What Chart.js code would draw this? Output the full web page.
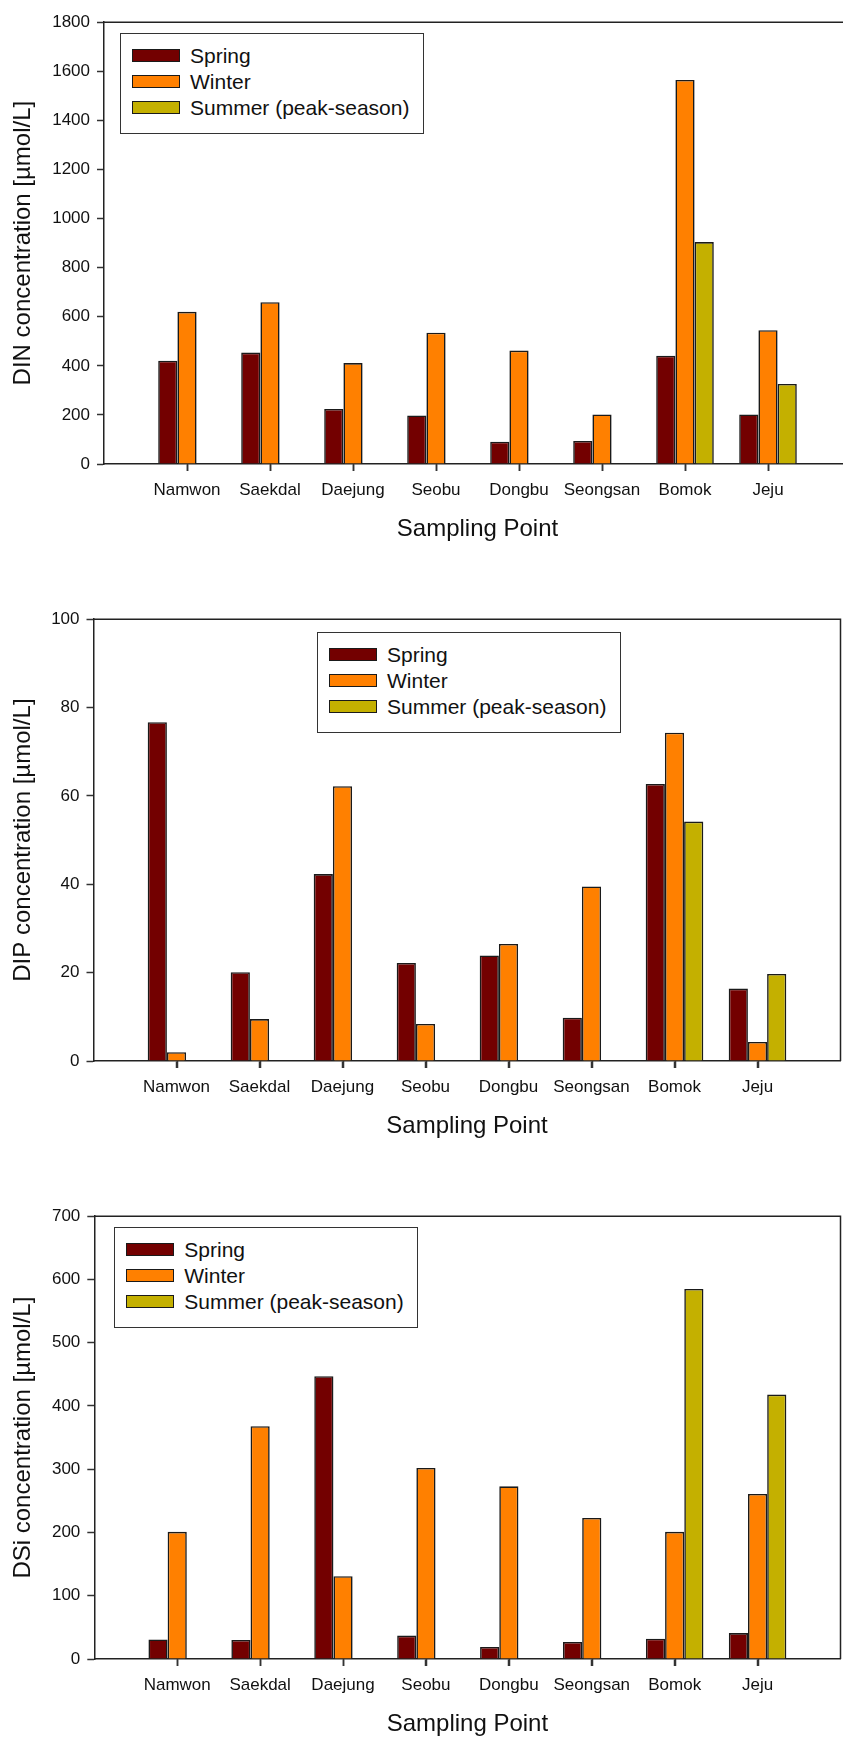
<!DOCTYPE html>
<html>
<head>
<meta charset="utf-8">
<script src="https://cdn.jsdelivr.net/npm/chart.js@4.4.1/dist/chart.umd.min.js"></script>
<style>
  html, body { margin: 0; padding: 0; background: #fff; }
  body { width: 843px; height: 1737px; position: relative; overflow: hidden; }
  .box { position: absolute; left: 0; }
  .legend {
    position: absolute; box-sizing: border-box; width: 304px; height: 101px;
    border: 1.5px solid #333; background: #fff;
    font-family: 'Liberation Sans', Arial, sans-serif; font-size: 21px; color: #111;
  }
  .legend .sw { position: absolute; left: 10.5px; width: 48px; height: 13px; box-sizing: border-box; border: 1.5px solid #1a1a1a; }
  .legend .lb { position: absolute; left: 69px; height: 24px; line-height: 24px; white-space: nowrap; }
</style>
</head>
<body>
<script>
// sampling points on the x axis
const categories = ['Namwon', 'Saekdal', 'Daejung', 'Seobu', 'Dongbu', 'Seongsan', 'Bomok', 'Jeju'];
const seasons = ['Spring', 'Winter', 'Summer (peak-season)'];
const seasonColors = ['#730000', '#ff8000', '#c4b000'];

// DIN [umol/L]
const dinSpring = [421, 454, 224, 198, 91, 94, 441, 202];
const dinWinter = [620, 659, 411, 535, 462, 202, 1565, 545];
const dinSummer = [null, null, null, null, null, null, 904, 326];

// DIP [umol/L]
const dipSpring = [76.7, 20.1, 42.3, 22.2, 23.9, 9.8, 62.7, 16.4];
const dipWinter = [2.0, 9.5, 62.2, 8.4, 26.5, 39.5, 74.3, 4.3];
const dipSummer = [null, null, null, null, null, null, 54.2, 19.7];

// DSi [umol/L]
const dsiSpring = [31, 30, 447, 37, 19, 27, 32, 41];
const dsiWinter = [201, 368, 131, 302, 273, 223, 201, 261];
const dsiSummer = [null, null, null, null, null, null, 585, 418];

// y axis ranges: min, max, step
const dinTicks = [0, 1800, 200];
const dipTicks = [0, 100, 20];
const dsiTicks = [0, 700, 100];

const FONT = "'Liberation Sans', Arial, sans-serif";

// page placement of each plot box
const frames = [
  { top: 19, bottom: 464, left: 104, right: 851, legLeft: 120, legTop: 32.5 },
  { top: 615.7, bottom: 1061, left: 93.5, right: 840.5, legLeft: 317, legTop: 631.5 },
  { top: 1212.5, bottom: 1658.5, left: 94.3, right: 840.5, legLeft: 114.3, legTop: 1226.5 }
];

// top + right border, and the tick marks under each sampling point
const framePlugin = {
  id: 'frame',
  afterDraw(chart) {
    const { ctx, chartArea: a } = chart;
    const xs = chart.scales.x;
    ctx.save();
    ctx.strokeStyle = '#222';
    ctx.lineWidth = 1.5;
    ctx.beginPath();
    ctx.moveTo(a.left, a.top);
    ctx.lineTo(a.right, a.top);
    ctx.lineTo(a.right, a.bottom);
    ctx.stroke();
    ctx.strokeStyle = '#333';
    ctx.beginPath();
    xs.ticks.forEach(t => {
      const px = Math.round(xs.getPixelForValue(t.value)) + 0.5;
      ctx.moveTo(px, a.bottom);
      ctx.lineTo(px, a.bottom + 7);
    });
    ctx.stroke();
    ctx.restore();
  }
};

function makeChart(idx, yTitle, spring, winter, summer, yr) {
  const f = frames[idx];
  const padTop = 14, axisH = 80;
  const box = document.createElement('div');
  box.className = 'box';
  box.style.top = (f.top - padTop) + 'px';
  const w = Math.round(f.right + 10);
  const h = Math.round(f.bottom - f.top + padTop + axisH);
  box.style.width = w + 'px';
  box.style.height = h + 'px';
  const cv = document.createElement('canvas');
  cv.width = w; cv.height = h;
  cv.style.width = w + 'px'; cv.style.height = h + 'px';
  box.appendChild(cv);
  document.body.appendChild(box);

  const series = [spring, winter, summer];
  const datasets = series.map((vals, s) => ({
    label: seasons[s],
    data: vals.map((v, i) => ({ x: i + 1, y: v })),
    backgroundColor: seasonColors[s],
    borderColor: '#1a1a1a',
    borderWidth: 1.6,
    categoryPercentage: 0.694,
    barPercentage: 1.0
  }));

  const chart = new Chart(cv.getContext('2d'), {
    type: 'bar',
    data: { datasets },
    options: {
      responsive: false,
      animation: false,
      layout: { padding: { top: padTop, right: w - f.right, left: 0, bottom: 0 } },
      plugins: { legend: { display: false }, tooltip: { enabled: false } },
      scales: {
        x: {
          type: 'linear', min: 0, max: 9, offset: false,
          afterFit: s => { s.height = axisH; },
          afterBuildTicks: s => { s.ticks = categories.map((c, i) => ({ value: i + 1 })); },
          ticks: {
            autoSkip: false, maxRotation: 0, padding: 9, color: '#111',
            font: { family: FONT, size: 17 },
            callback: v => categories[v - 1] || ''
          },
          grid: { offset: false, drawOnChartArea: false, drawTicks: true, tickLength: 7, tickWidth: 1.5, tickColor: '#333' },
          border: { display: true, color: '#222', width: 1.5 },
          title: { display: true, text: 'Sampling Point', color: '#111', font: { family: FONT, size: 24 }, padding: { top: 0, bottom: 0 } }
        },
        y: {
          min: yr[0], max: yr[1],
          afterFit: s => { s.width = f.left; },
          ticks: { stepSize: yr[2], padding: 7, color: '#111', font: { family: FONT, size: 17 }, callback: v => String(v) },
          grid: { drawOnChartArea: false, drawTicks: true, tickLength: 7, tickWidth: 1.5, tickColor: '#333' },
          border: { display: true, color: '#222', width: 1.5 },
          title: { display: true, text: yTitle, color: '#111', font: { family: FONT, size: 24 }, padding: { top: 8.6, bottom: 0 } }
        }
      }
    },
    plugins: [framePlugin]
  });

  // legend box inside the plot
  const leg = document.createElement('div');
  leg.className = 'legend';
  leg.style.left = f.legLeft + 'px';
  leg.style.top = f.legTop + 'px';
  const rowCenters = [22.3, 48.3, 74.3];
  chart.data.datasets.forEach((ds, s) => {
    const sw = document.createElement('span');
    sw.className = 'sw';
    sw.style.background = ds.backgroundColor;
    sw.style.top = (rowCenters[s] - 6.5) + 'px';
    const lb = document.createElement('span');
    lb.className = 'lb';
    lb.textContent = ds.label;
    lb.style.top = (rowCenters[s] - 12) + 'px';
    leg.appendChild(sw);
    leg.appendChild(lb);
  });
  document.body.appendChild(leg);
}

makeChart(0, 'DIN concentration [\u00b5mol/L]', dinSpring, dinWinter, dinSummer, dinTicks);
makeChart(1, 'DIP concentration [\u00b5mol/L]', dipSpring, dipWinter, dipSummer, dipTicks);
makeChart(2, 'DSi concentration [\u00b5mol/L]', dsiSpring, dsiWinter, dsiSummer, dsiTicks);
</script>
</body>
</html>
